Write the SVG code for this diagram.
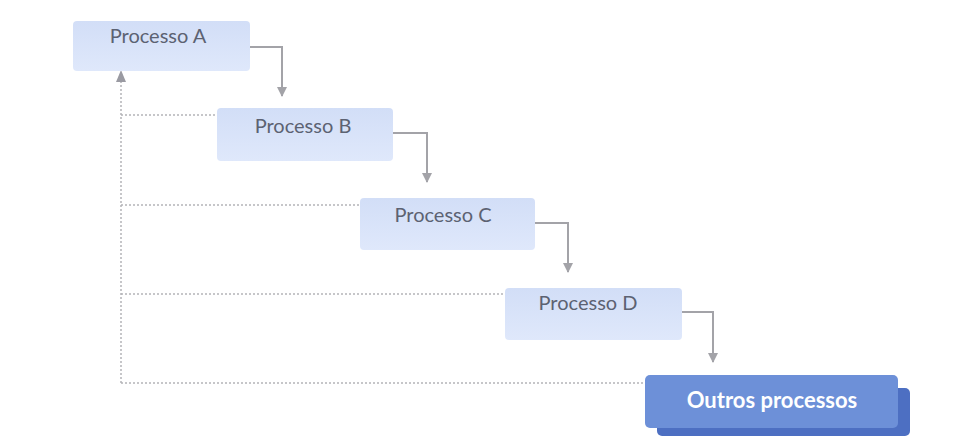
<svg xmlns="http://www.w3.org/2000/svg" width="966" height="436" viewBox="0 0 966 436">
<style>
.box{fill:url(#g);stroke:none}
.lbl{font-family:Lato,"Open Sans",sans-serif;font-size:20px;fill:#5c6272;text-anchor:middle}
.conn{fill:none;stroke:#a3a3a8;stroke-width:2}
.dot{fill:none;stroke:#b4b4b8;stroke-width:1.5;stroke-dasharray:2 2}
</style>
<defs>
<linearGradient id="g" x1="0" y1="0" x2="0" y2="1">
<stop offset="0" stop-color="#d2def7"/>
<stop offset="1" stop-color="#dfe8fb"/>
</linearGradient>
<marker id="ah" viewBox="0 0 10 10" refX="9" refY="5" markerWidth="5" markerHeight="5" orient="auto">
<path d="M0,0 L10,5 L0,10 z" fill="#a3a3a8"/>
</marker>
</defs>
<rect width="966" height="436" fill="#ffffff"/>
<g id="connectors">
<polyline class="conn" points="250,47 282,47 282,96" marker-end="url(#ah)"/>
<polyline class="conn" points="393,133 427,133 427,182" marker-end="url(#ah)"/>
<polyline class="conn" points="535,223 568,223 568,272" marker-end="url(#ah)"/>
<polyline class="conn" points="682,312 713,312 713,362" marker-end="url(#ah)"/>
<line class="dot" x1="121" y1="383" x2="121" y2="78"/>
<path d="M116,82 L121,70 L126,82 z" fill="#9a9aa2"/>
<line class="dot" x1="121" y1="115" x2="217" y2="115"/>
<line class="dot" x1="121" y1="205" x2="360" y2="205"/>
<line class="dot" x1="121" y1="294" x2="505" y2="294"/>
<line class="dot" x1="121" y1="383" x2="645" y2="383"/>
</g>
<g id="nodeA">
<rect class="box" x="73" y="21" width="177" height="50" rx="4"/>
<text class="lbl" x="158" y="43">Processo A</text>
</g>
<g id="nodeB">
<rect class="box" x="217" y="108" width="176" height="53" rx="4"/>
<text class="lbl" x="303" y="133">Processo B</text>
</g>
<g id="nodeC">
<rect class="box" x="360" y="198" width="175" height="52" rx="4"/>
<text class="lbl" x="443" y="222">Processo C</text>
</g>
<g id="nodeD">
<rect class="box" x="505" y="288" width="177" height="52" rx="4"/>
<text class="lbl" x="588" y="310">Processo D</text>
</g>
<g id="nodeOutros">
<rect x="657" y="388" width="253" height="48" rx="5" fill="#4d6fc2"/>
<rect x="645" y="375" width="253" height="53" rx="5" fill="#6d90d8"/>
<text x="772" y="408" font-family="Lato,'Open Sans',sans-serif" font-size="22" font-weight="bold" fill="#ffffff" text-anchor="middle">Outros processos</text>
</g>
</svg>
